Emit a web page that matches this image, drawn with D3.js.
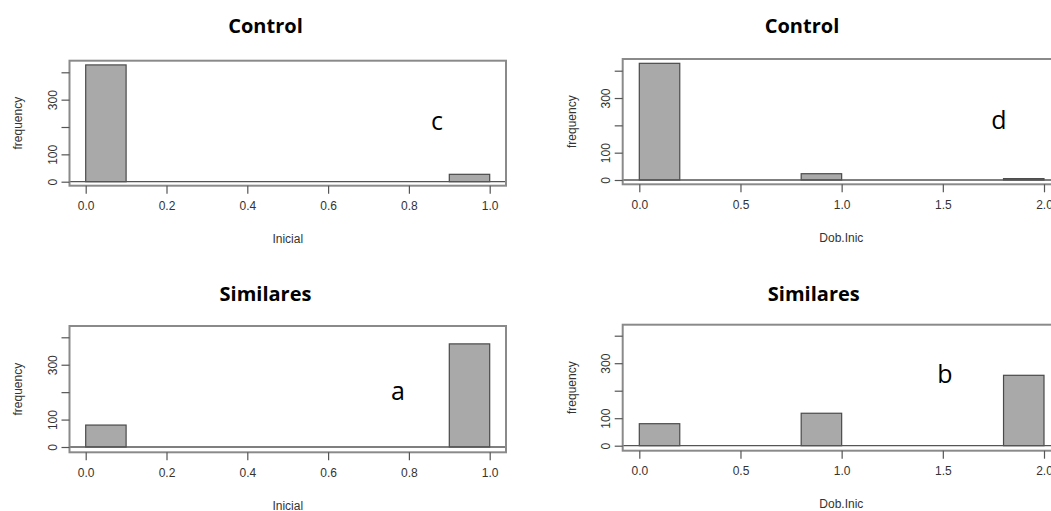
<!DOCTYPE html>
<html>
<head>
<meta charset="utf-8">
<script src="https://cdn.jsdelivr.net/npm/d3@7"></script>
<style>
  html, body { margin: 0; padding: 0; background: #fff; overflow: hidden; }
  svg { display: block; }
</style>
</head>
<body>
<svg id="chart" width="1051" height="511"></svg>
<script>
// Histogram counts per bin for each group and variable
const inicialBins = [[0, 0.1], [0.9, 1.0]];
const dobInicBins = [[0, 0.2], [0.8, 1.0], [1.8, 2.0]];
const controlInicial = [427, 27];
const controlDobInic = [427, 23, 5];
const similaresInicial = [80, 376];
const similaresDobInic = [80, 118, 256];

const inicialTicks = [0, 0.2, 0.4, 0.6, 0.8, 1.0];
const dobInicTicks = [0, 0.5, 1.0, 1.5, 2.0];
const freqTicks = [0, 100, 200, 300, 400];
const freqLabels = [0, 100, 300];

const panelTitles = ["Control", "Control", "Similares", "Similares"];
const panelLetters = ["c", "d", "a", "b"];
const xLabels = ["Inicial", "Dob.Inic", "Inicial", "Dob.Inic"];

const svg = d3.select("#chart");

// Layout of each panel: x/y pixel anchors for the scales and the framing box
const panels = [
  { bins: inicialBins, counts: controlInicial, xticks: inicialTicks, xfmt: d3.format(".1f"),
    x0: 85.7, x1: 489.7, xmax: 1, y0: 181.7, y400: 72.3,
    box: [69.5, 60.7, 506, 185.7], titleX: 265.5, titleY: 33, letter: [437, 130],
    ylabX: 18 },
  { bins: dobInicBins, counts: controlDobInic, xticks: dobInicTicks, xfmt: d3.format(".1f"),
    x0: 639.3, x1: 1044, xmax: 2, y0: 180, y400: 70.7,
    box: [622.7, 59, 1060, 184.3], titleX: 802, titleY: 33, letter: [999, 129],
    ylabX: 571.7 },
  { bins: inicialBins, counts: similaresInicial, xticks: inicialTicks, xfmt: d3.format(".1f"),
    x0: 85.7, x1: 489.7, xmax: 1, y0: 447, y400: 337.3,
    box: [69.5, 326, 506, 452.3], titleX: 265.5, titleY: 301, letter: [398, 400],
    ylabX: 18 },
  { bins: dobInicBins, counts: similaresDobInic, xticks: dobInicTicks, xfmt: d3.format(".1f"),
    x0: 639.3, x1: 1044, xmax: 2, y0: 445.7, y400: 335.7,
    box: [622.7, 324.7, 1060, 450.7], titleX: 813.8, titleY: 301, letter: [945, 383],
    ylabX: 571.7 }
];

const axisFont = "'Liberation Sans', Arial, sans-serif";
const titleFont = "'Open Sans', 'Noto Sans', sans-serif";

panels.forEach((p, i) => {
  const g = svg.append("g");
  const x = d3.scaleLinear().domain([0, p.xmax]).range([p.x0, p.x1]);
  const y = d3.scaleLinear().domain([0, 400]).range([p.y0, p.y400]);
  const [bx0, by0, bx1, by1] = p.box;

  // histogram bars
  g.selectAll("rect.bar")
    .data(p.counts.map((c, k) => ({ c, lo: p.bins[k][0], hi: p.bins[k][1] })))
    .join("rect")
    .attr("class", "bar")
    .attr("x", d => x(d.lo))
    .attr("width", d => x(d.hi) - x(d.lo))
    .attr("y", d => y(d.c))
    .attr("height", d => y(0) - y(d.c))
    .attr("fill", "#a9a9a9")
    .attr("stroke", "#4a4a4a")
    .attr("stroke-width", 1.2);

  // baseline at zero frequency
  g.append("line")
    .attr("x1", bx0).attr("x2", bx1)
    .attr("y1", y(0)).attr("y2", y(0))
    .attr("stroke", "#555").attr("stroke-width", 1.3);

  // framing box
  g.append("rect")
    .attr("x", bx0).attr("y", by0)
    .attr("width", bx1 - bx0).attr("height", by1 - by0)
    .attr("fill", "none")
    .attr("stroke", "#8a8a8a").attr("stroke-width", 2);

  // x axis
  const xAxis = d3.axisBottom(x).tickValues(p.xticks).tickFormat(p.xfmt)
    .tickSizeInner(8).tickSizeOuter(0).tickPadding(8);
  const gx = g.append("g").attr("transform", `translate(0,${by1})`).call(xAxis);
  gx.select(".domain").remove();
  gx.selectAll(".tick line").attr("stroke", "#555").attr("stroke-width", 1.2);
  gx.selectAll(".tick text").attr("fill", "#333").attr("font-family", axisFont).attr("font-size", 12);

  // y axis (labels rotated, R style)
  const yAxis = d3.axisLeft(y).tickValues(freqTicks)
    .tickFormat(d => freqLabels.includes(d) ? d : "")
    .tickSizeInner(8).tickSizeOuter(0).tickPadding(0);
  const gy = g.append("g").attr("transform", `translate(${bx0},0)`).call(yAxis);
  gy.select(".domain").remove();
  gy.selectAll(".tick line").attr("stroke", "#555").attr("stroke-width", 1.2);
  gy.selectAll(".tick text")
    .attr("fill", "#333").attr("font-family", axisFont).attr("font-size", 12)
    .attr("x", null).attr("dy", null)
    .attr("text-anchor", "middle")
    .attr("transform", "translate(-17,0) rotate(-90)")
    .attr("dy", "0.35em");

  // axis titles
  g.append("text")
    .attr("x", (bx0 + bx1) / 2).attr("y", by1 + 57.5)
    .attr("text-anchor", "middle")
    .attr("font-family", axisFont).attr("font-size", 12).attr("fill", "#333")
    .text(xLabels[i]);
  g.append("text")
    .attr("transform", `translate(${p.ylabX},${(by0 + by1) / 2}) rotate(-90)`)
    .attr("text-anchor", "middle").attr("dy", "0.35em")
    .attr("font-family", axisFont).attr("font-size", 12).attr("fill", "#333")
    .text("frequency");

  // panel title
  g.append("text")
    .attr("x", p.titleX).attr("y", p.titleY)
    .attr("text-anchor", "middle")
    .attr("font-family", titleFont).attr("font-weight", "bold").attr("font-size", 20)
    .attr("fill", "#000")
    .text(panelTitles[i]);

  // panel letter
  g.append("text")
    .attr("x", p.letter[0]).attr("y", p.letter[1])
    .attr("text-anchor", "middle")
    .attr("font-family", titleFont).attr("font-size", 25)
    .attr("fill", "#000")
    .text(panelLetters[i]);
});
</script>
</body>
</html>
